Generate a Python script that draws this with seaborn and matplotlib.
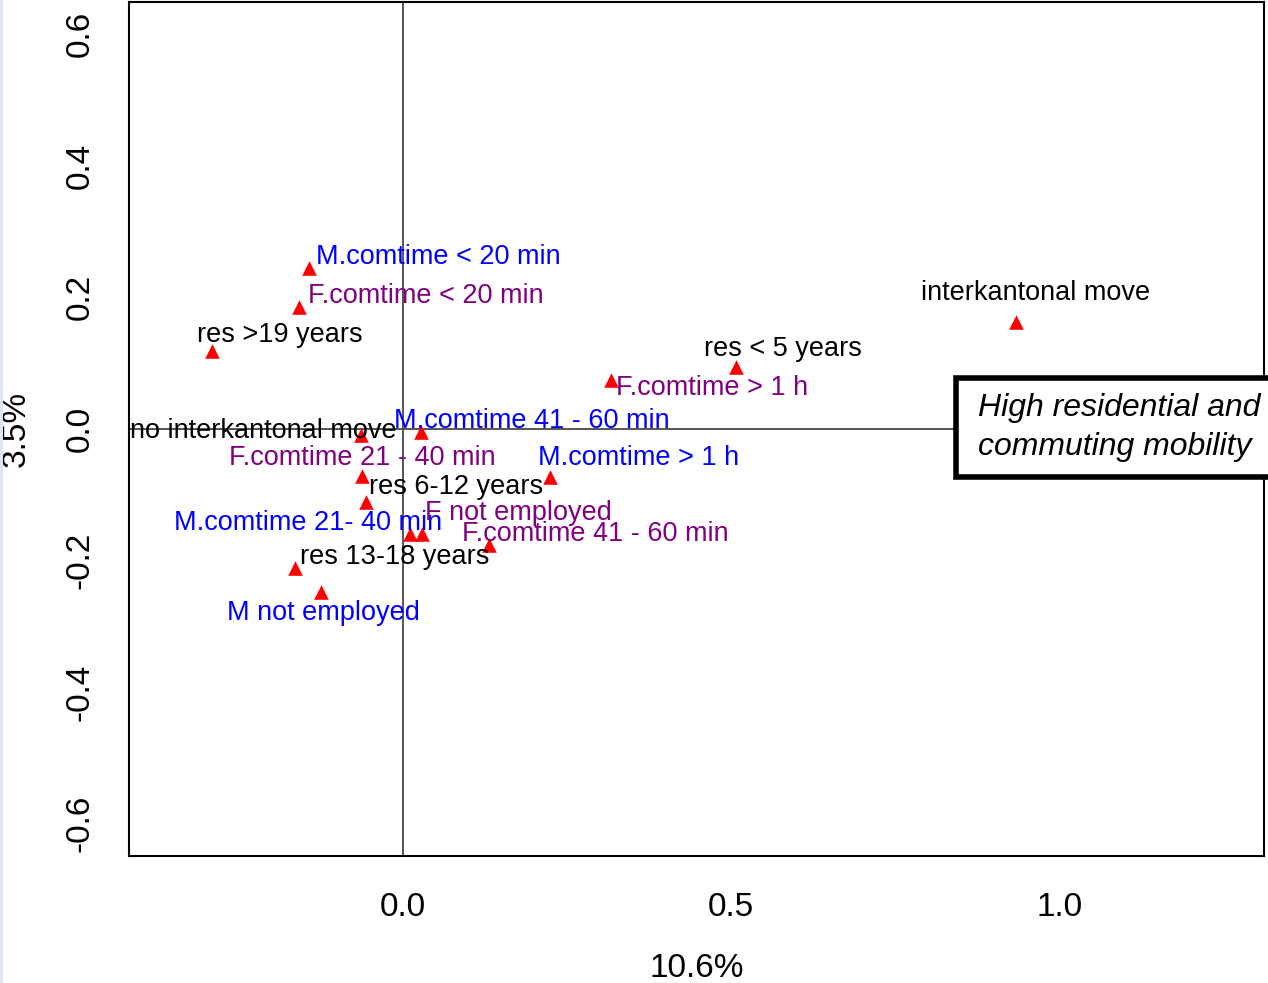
import numpy as np
import pandas as pd
import seaborn as sns
import matplotlib.pyplot as plt
from matplotlib.patches import Rectangle

# correspondence analysis coordinates
labels = ['M.comtime < 20 min', 'F.comtime < 20 min', 'res >19 years', 'interkantonal move',
          'res < 5 years', 'F.comtime > 1 h', 'no interkantonal move', 'M.comtime 41 - 60 min',
          'F.comtime 21 - 40 min', 'M.comtime > 1 h', 'res 6-12 years', 'M.comtime 21- 40 min',
          'F not employed', 'F.comtime 41 - 60 min', 'res 13-18 years', 'M not employed']
dim1 = [-0.142, -0.158, -0.290, 0.935, 0.508, 0.318, -0.063, 0.028,
        -0.062, 0.225, -0.056, 0.011, 0.029, 0.132, -0.164, -0.124]
dim2 = [0.244, 0.185, 0.118, 0.163, 0.094, 0.075, -0.009, -0.004,
        -0.071, -0.073, -0.111, -0.159, -0.159, -0.176, -0.211, -0.248]
group = ['M', 'F', 'other', 'other', 'other', 'F', 'other', 'M',
         'F', 'M', 'other', 'M', 'F', 'F', 'other', 'M']

df = pd.DataFrame({'label': labels, 'dim1': dim1, 'dim2': dim2, 'group': group})

# label placement (pixels, image convention: +x right, +y down)
offsets = {
    'M.comtime < 20 min': (7, -11), 'F.comtime < 20 min': (9, -11),
    'res >19 years': (-15, -16), 'interkantonal move': (-95, -29),
    'res < 5 years': (-32, -18), 'F.comtime > 1 h': (5, 8),
    'no interkantonal move': (-231, -4), 'M.comtime 41 - 60 min': (-27, -11),
    'F.comtime 21 - 40 min': (-133, -18), 'M.comtime > 1 h': (-12, -19),
    'res 6-12 years': (3, -15), 'M.comtime 21- 40 min': (-236, -11),
    'F not employed': (3, -21), 'F.comtime 41 - 60 min': (-27, -11),
    'res 13-18 years': (5, -11), 'M not employed': (-94, 21),
}
colors = {'M': '#0000FF', 'F': '#800080', 'other': 'black'}

sns.set_style('white')
plt.rcParams['font.family'] = ['Liberation Sans', 'DejaVu Sans']
plt.rcParams['text.color'] = 'black'
plt.rcParams['axes.labelcolor'] = 'black'
plt.rcParams['xtick.color'] = 'black'
plt.rcParams['ytick.color'] = 'black'

fig = plt.figure(figsize=(12.68, 9.83), dpi=100)
ax = fig.add_axes([0.1017, 0.1292, 0.8951, 0.8688])

ax.axhline(0, color='#555555', lw=1.4, zorder=1)
ax.axvline(0, color='#555555', lw=1.4, zorder=1)

sns.scatterplot(data=df, x='dim1', y='dim2', marker='^', color='red', s=110,
                linewidth=0, ax=ax, zorder=3)

for i, row in df.iterrows():
    dx, dy = offsets[row['label']]
    ax.annotate(row['label'], (row['dim1'], row['dim2']), xytext=(dx, -dy),
                textcoords='offset pixels', ha='left', va='center',
                fontsize=19.5, color=colors[row['group']], zorder=4)

ax.set_xlim(-0.417, 1.312)
ax.set_ylim(-0.649, 0.649)
ax.set_xticks([0.0, 0.5, 1.0])
ax.set_xticklabels(['0.0', '0.5', '1.0'], fontsize=24)
ax.set_yticks([-0.6, -0.4, -0.2, 0.0, 0.2, 0.4, 0.6])
ax.set_yticklabels(['-0.6', '-0.4', '-0.2', '0.0', '0.2', '0.4', '0.6'],
                   fontsize=24, rotation=90, va='center')
ax.tick_params(axis='both', direction='out', length=11, width=1.2, color='black')
ax.tick_params(axis='x', pad=15)
ax.tick_params(axis='y', pad=13)
for sp in ax.spines.values():
    sp.set_color('black')
    sp.set_linewidth(1.5)

ax.set_xlabel('10.6%', fontsize=24)
ax.set_ylabel('3.5%', fontsize=24)
ax.xaxis.set_label_coords(0.5, -0.113)
ax.yaxis.set_label_coords(-0.0855, 0.5)

# annotation box on the right
fig.patches.append(Rectangle((956 / 1268, 1 - 477 / 983), 0.3, 99 / 983,
                             transform=fig.transFigure, facecolor='white',
                             edgecolor='black', lw=4, zorder=5))
fig.text(978 / 1268, 1 - 408 / 983, 'High residential and', fontsize=23,
         style='italic', va='center', ha='left', zorder=6)
fig.text(978 / 1268, 1 - 447 / 983, 'commuting mobility', fontsize=23,
         style='italic', va='center', ha='left', zorder=6)

# thin light strip on the left edge
fig.patches.append(Rectangle((0, 0), 2.5 / 1268, 1, transform=fig.transFigure,
                             facecolor='#dce6f0', edgecolor='none'))

plt.savefig('out.png', dpi=100)
